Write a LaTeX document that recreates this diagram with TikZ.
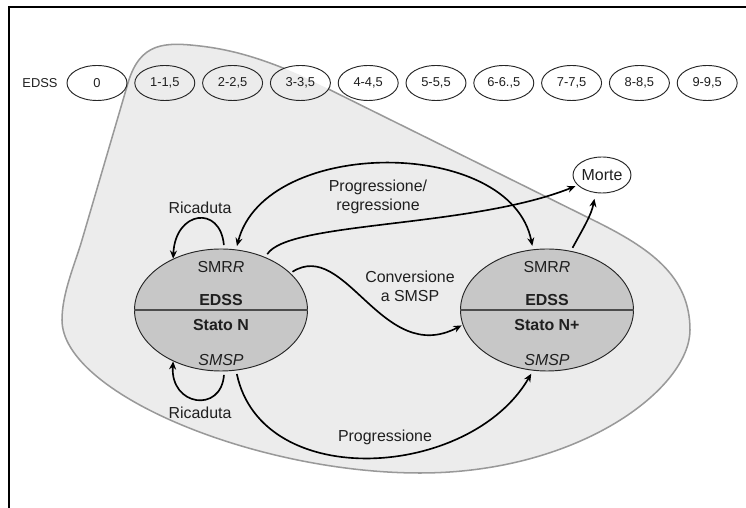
\documentclass[tikz,border=0pt]{standalone}
\usepackage{fontspec}
\setmainfont{Liberation Sans}
\usetikzlibrary{arrows.meta, shapes.geometric, positioning}

\definecolor{blobfill}{gray}{0.925}
\definecolor{blobline}{gray}{0.6}
\definecolor{statofill}{gray}{0.78}
\definecolor{inktext}{gray}{0.12}

% outline of the shaded region
\newcommand{\blobpath}{(82,268) -- (128,425) .. controls (140,466) and (165,466) .. (200,462) .. controls (235,458) and (265,448) .. (300,433) -- (593,288) .. controls (650,260) and (690,232) .. (690,178) .. controls (690,120) and (580,35) .. (420,35) .. controls (255,35) and (62,115) .. (62,188) .. controls (62,215) and (75,244) .. (82,268) -- cycle}

\begin{document}
\begin{tikzpicture}[x=0.03cm, y=0.03cm,
    every node/.style={text=inktext, font=\fontsize{13.6}{16}\selectfont},
    edssov/.style={ellipse, draw=black!85, line width=0.8pt, minimum width=1.8cm, minimum height=1.05cm, inner sep=0pt, font=\fontsize{11}{13}\selectfont},
    stato/.style={ellipse, draw=black!85, line width=0.8pt, fill=statofill, minimum width=5.19cm, minimum height=3.66cm, inner sep=0pt},
    morteov/.style={ellipse, draw=black!85, line width=0.8pt, fill=white, minimum width=1.74cm, minimum height=1.08cm, inner sep=0pt},
    lbl/.style={align=center},
    arr/.style={draw=black, line width=1.4pt, -{Stealth[length=7pt, width=6pt]}},
    arr2/.style={draw=black, line width=1.4pt, {Stealth[length=7pt, width=6pt]}-{Stealth[length=7pt, width=6pt]}}]
    \useasboundingbox (0,0) rectangle (746,508);

    % Frame
    \draw[line width=2.1pt] (9,0) -- (9,501) -- (746,501);

    % Shaded region
    \fill[blobfill] \blobpath;
    \draw[blobline, line width=1.3pt] \blobpath;

    % EDSS scale
    \foreach \i in {0,...,9}
    {
        \fill[white] ({97+67.8*\i},425) ellipse [x radius=30, y radius=17.5];
    }
    \begin{scope}
        \clip \blobpath;
        \foreach \i in {0,...,9}
        {
            \fill[blobfill] ({97+67.8*\i},425) ellipse [x radius=30, y radius=17.5];
        }
    \end{scope}
    \node (edsslbl) at (40,425) {\fontsize{11}{13}\selectfont EDSS};
    \foreach \lab [count=\i from 0] in {0,{1-1,5},{2-2,5},{3-3,5},{4-4,5},{5-5,5},{6-6.,5},{7-7,5},{8-8,5},{9-9,5}}
    {
        \node[edssov] (e\i) at ({97+67.8*\i},425) {\lab};
    }

    % States
    \node[stato] (stN) at (221,198) {};
    \node[stato] (stNp) at (547,198) {};
    \draw[black!70, line width=1.3pt] (stN.west) -- (stN.east);
    \draw[black!70, line width=1.3pt] (stNp.west) -- (stNp.east);

    \node (stN-rr) at ([yshift=1.29cm]stN.center) {SMR\textit{R}};
    \node (stN-edss) at ([yshift=0.3cm]stN.center) {\textbf{EDSS}};
    \node (stN-stato) at ([yshift=-0.45cm]stN.center) {\textbf{Stato N}};
    \node (stN-sp) at ([yshift=-1.5cm]stN.center) {\textit{SMSP}};

    \node (stNp-rr) at ([yshift=1.29cm]stNp.center) {SMR\textit{R}};
    \node (stNp-edss) at ([yshift=0.3cm]stNp.center) {\textbf{EDSS}};
    \node (stNp-stato) at ([yshift=-0.45cm]stNp.center) {\textbf{Stato N+}};
    \node (stNp-sp) at ([yshift=-1.5cm]stNp.center) {\textit{SMSP}};

    \node[morteov] (morte) at (602,333) {Morte};

    % Labels
    \node[lbl] (ricTop) at (200,300) {Ricaduta};
    \node[lbl] (ricBot) at (200,95) {Ricaduta};
    \node[lbl] (progreg) at (378,311) {Progressione/\\regressione};
    \node[lbl] (conv) at (410,222) {Conversione\\a SMSP};
    \node[lbl] (prog) at (385,71) {Progressione};

    % Transitions
    \draw[arr, shorten <=3pt] (stN.87) .. controls +(-4,44) and +(2,48) .. (stN.133);
    \draw[arr, shorten <=3pt] (stN.273) .. controls +(-3,-42) and +(-3,-45) .. (stN.227);
    \draw[arr2, shorten <=3pt, shorten >=3pt] (stN.76) .. controls +(29,113) and +(-22,113) .. (stNp.103);
    \draw[arr, shorten <=3pt, shorten >=2pt] (stN.50) .. controls +(23,36) and +(-108,-43) .. (morte.203);
    \draw[arr, shorten <=3pt, shorten >=5pt] (stNp.68) .. controls +(12,22) and +(-4,-22) .. (morte.250);
    \draw[arr, shorten <=2pt, shorten >=1pt] (stN.28) .. controls +(55,35) and +(-80,-42) .. (stNp.190);
    \draw[arr, shorten <=3pt, shorten >=3pt] (stN.284) to[out=-78, in=-120, looseness=1.08] (stNp.257);
\end{tikzpicture}
\end{document}
